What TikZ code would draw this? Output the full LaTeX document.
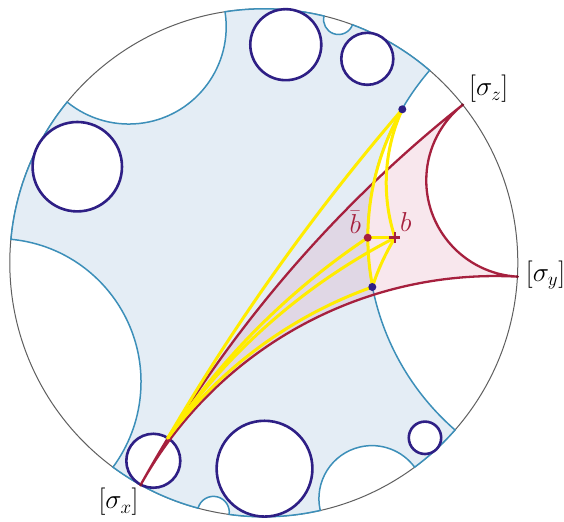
\documentclass[tikz,border=0pt]{standalone}
\DeclareMathSizes{24.88}{24.88}{17.28}{12}
\definecolor{regblue}{RGB}{228,237,245}
\definecolor{geoteal}{RGB}{60,143,185}
\definecolor{circnavy}{RGB}{46,31,133}
\definecolor{geored}{RGB}{166,32,62}
\definecolor{geopink}{RGB}{200,40,100}
\definecolor{geoyel}{RGB}{255,236,0}
\definecolor{rimgray}{RGB}{95,95,95}
\begin{document}
\begin{tikzpicture}[x=254pt,y=254pt,
  rim/.style={draw=rimgray,line width=1pt},
  region/.style={fill=regblue,draw=geoteal,line width=1.5pt},
  disc/.style={draw=circnavy,fill=white,line width=2.6pt},
  tri/.style={draw=geored,line width=2.3pt,fill=geopink,fill opacity=0.11,line join=round},
  yline/.style={draw=geoyel,line width=3pt,line cap=round},
  lbl/.style={inner sep=0pt,anchor=base west,scale=1.1,font=\fontsize{24.88}{30}\selectfont},
  rlbl/.style={lbl,text=geored}]
\path[use as bounding box,fill=white] (-1.0386,-1.0205) rectangle (1.1819,1.0346);
% boundary circle
\draw[rim] (0,0) circle[radius=1];
% blue region bounded by geodesics
\path[region] (49.24:1)
  arc[start angle=49.24,end angle=69.56,radius=1]
  arc[start angle=339.56,end angle=166.29,radius={tan(3.365)}]
  arc[start angle=76.29,end angle=98.78,radius=1]
  arc[start angle=368.78,end angle=230.74,radius={tan(20.98)}]
  arc[start angle=140.74,end angle=174.69,radius=1]
  arc[start angle=444.69,end angle=323.57,radius={tan(29.44)}]
  arc[start angle=233.57,end angle=255,radius=1]
  arc[start angle=525,end angle=352.16,radius={tan(3.58)}]
  arc[start angle=262.16,end angle=282.84,radius=1]
  arc[start angle=552.84,end angle=396.43,radius={tan(11.795)}]
  arc[start angle=306.43,end angle=318.84,radius=1]
  arc[start angle=588.84,end angle=499.24,radius={tan(45.2)}]
  -- cycle;
% navy circles
\draw[disc] (0.0866,0.8587) circle[radius=0.1398];
\draw[disc] (0.4075,0.8031) circle[radius=0.1024];
\draw[disc] (-0.7343,0.3783) circle[radius=0.1760];
\draw[disc] (0.0028,-0.8106) circle[radius=0.1886];
\draw[disc] (-0.4350,-0.7795) circle[radius=0.1063];
\draw[disc] (0.6346,-0.6890) circle[radius=0.0638];
% points
\coordinate (sx) at (241:1);
\coordinate (sy) at (356.87:1);
\coordinate (sz) at (38.46:1);
\coordinate (X0) at (-0.378,-0.690);
\coordinate (T) at (0.5453,0.6043);
\coordinate (Bb) at (0.4091,0.0988);
\coordinate (B) at (0.5165,0.0988);
\coordinate (D) at (0.4272,-0.0953);
% ideal triangle
\draw[tri] (sx)
  arc[start angle=511,end angle=446.87,radius={tan(57.935)}]
  arc[start angle=626.87,end angle=488.46,radius={tan(20.795)}]
  arc[start angle=488.46,end angle=511,radius={tan(78.73)}]
  -- cycle;
% yellow geodesics
\draw[yline] (X0) arc[start angle=149.70,end angle=139.29,radius=8.7640];
\draw[yline] (X0) arc[start angle=146.39,end angle=123.73,radius=2.83686];
\draw[yline] (X0) arc[start angle=145.58,end angle=117.24,radius=2.43554];
\draw[yline] (X0) arc[start angle=143.25,end angle=109.65,radius=1.73179];
\draw[yline] (T) arc[start angle=155.33,end angle=198.15,radius=0.69353];
\draw[yline] (B) arc[start angle=148.69,end angle=161.91,radius=0.92779];
\draw[yline] (Bb) -- (B);
\draw[yline] (T) arc[start angle=149.91,end angle=191.18,radius=1.00700];
% dots
\fill[circnavy] (T) circle[radius=4pt];
\fill[circnavy] (D) circle[radius=4pt];
\fill[geored] (Bb) circle[radius=4pt];
\draw[geored,line width=2.5pt] (B) ++(-5.5pt,0pt) -- ++(11pt,0pt);
\draw[geored,line width=2.5pt] (B) ++(0pt,-5.5pt) -- ++(0pt,11pt);
\fill[geored!75!black] (sx) circle[radius=1.6pt];
\fill[geored!75!black] (sy) circle[radius=1.6pt];
\fill[geored!75!black] (sz) circle[radius=1.6pt];
% labels
\node[lbl] (lz) at (0.8079,0.6567) {$[\sigma_z]$};
\node[lbl] (ly) at (1.0311,-0.0728) {$[\sigma_y]$};
\node[lbl] (lx) at (-0.6516,-0.9693) {$[\sigma_x]$};
\node[rlbl] (lbb) at (0.3366,0.1161) {$\bar b$};
\node[rlbl] (lb) at (0.5362,0.1224) {$b$};
\end{tikzpicture}
\end{document}
